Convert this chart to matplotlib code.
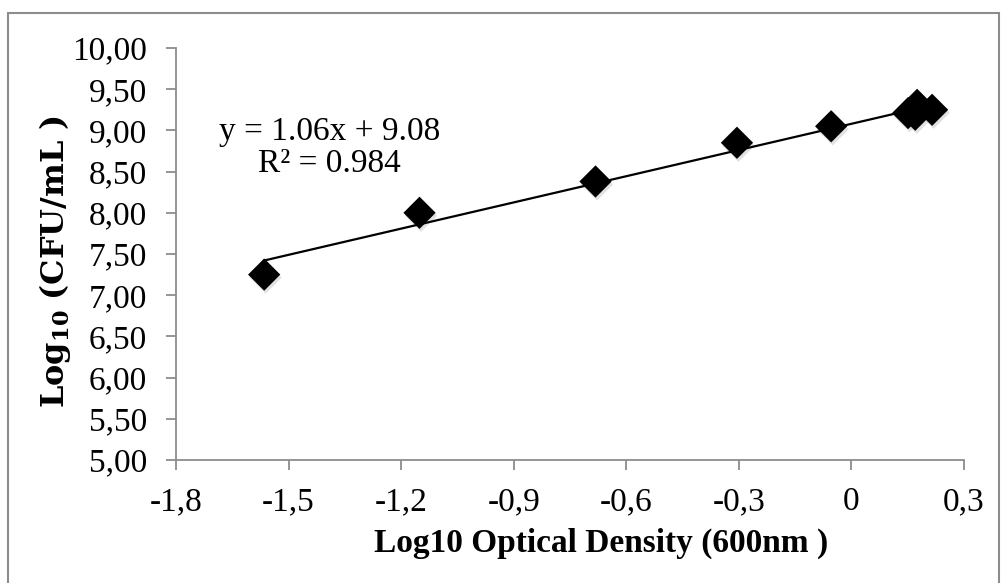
import matplotlib
matplotlib.use("Agg")
import matplotlib.pyplot as plt
import matplotlib.transforms as mtransforms
from matplotlib.patches import Rectangle
import numpy as np

# ---- data ----
log_od = [-1.565, -1.151, -0.682, -0.305, -0.054, 0.151, 0.175, 0.170, 0.215]
log_cfu = [7.25, 8.00, 8.38, 8.85, 9.05, 9.21, 9.31, 9.19, 9.25]
slope = 1.06
intercept = 9.08
r2 = 0.984
x_ticks = [-1.8, -1.5, -1.2, -0.9, -0.6, -0.3, 0.0, 0.3]
x_tick_labels = ["-1,8", "-1,5", "-1,2", "-0,9", "-0,6", "-0,3", "0", "0,3"]
y_ticks = [5.0, 5.5, 6.0, 6.5, 7.0, 7.5, 8.0, 8.5, 9.0, 9.5, 10.0]
y_tick_labels = ["5,00", "5,50", "6,00", "6,50", "7,00", "7,50", "8,00",
                 "8,50", "9,00", "9,50", "10,00"]
x_label = "Log10 Optical Density (600nm )"
eq_text = "y = 1.06x + 9.08"
r2_text = "R² = 0.984"

plt.rcParams["font.family"] = ["Liberation Serif", "DejaVu Serif"]
plt.rcParams["mathtext.fontset"] = "custom"
plt.rcParams["mathtext.rm"] = "DejaVu Serif"
plt.rcParams["mathtext.bf"] = "DejaVu Serif:bold"
plt.rcParams["mathtext.it"] = "DejaVu Serif:italic"

W, H = 1002, 583
fig = plt.figure(figsize=(W / 100, H / 100), dpi=100)
fig.patch.set_facecolor("white")

# outer chart border (left, top, right visible)
border = Rectangle((8 / W, -0.05), (999 - 8) / W, (1 - 13 / H) + 0.05,
                   transform=fig.transFigure, fill=False,
                   edgecolor="#8c8c8c", linewidth=1.5)
fig.patches.append(border)

ax = fig.add_axes([176 / W, 1 - 460 / H, (964 - 176) / W, (460 - 48) / H])
ax.set_xlim(-1.8, 0.3)
ax.set_ylim(5.0, 10.0)

# trendline
xs = np.array([min(log_od), max(log_od)])
ax.plot(xs, slope * xs + intercept, color="black", linewidth=1.6, zorder=3)

# marker shadow
shadow = mtransforms.offset_copy(ax.transData, fig=fig, x=1.5, y=-3, units="dots")
ax.scatter(log_od, log_cfu, marker="D", s=270, color="#c4c4c4", alpha=0.5,
           edgecolors="none", transform=shadow, zorder=2, clip_on=False)
ax.scatter(log_od, log_cfu, marker="D", s=270, color="black",
           edgecolors="none", zorder=4, clip_on=False)

ax.set_xticks(x_ticks)
ax.set_xticklabels(x_tick_labels)
ax.set_yticks(y_ticks)
ax.set_yticklabels(y_tick_labels)
ax.tick_params(axis="both", direction="out", length=7, width=1.3,
               color="#8c8c8c", labelsize=24)
ax.tick_params(axis="x", pad=12)
ax.tick_params(axis="y", pad=14)

for side in ["top", "right"]:
    ax.spines[side].set_visible(False)
for side in ["left", "bottom"]:
    ax.spines[side].set_color("#8c8c8c")
    ax.spines[side].set_linewidth(1.3)

ax.set_xlabel(x_label, fontsize=24, fontweight="bold", labelpad=8)
ax.xaxis.label.set_x(0.539)
ax.set_ylabel(r"$\mathbf{Log_{10}\ (CFU/mL\ )}$", fontsize=23, labelpad=-1)
ax.yaxis.label.set_y(0.48)

ax.text(-1.39, 8.79, eq_text + "\n" + r2_text, fontsize=24, ha="center",
        va="center", linespacing=1.08)

fig.savefig("out.png", dpi=100, facecolor="white")
